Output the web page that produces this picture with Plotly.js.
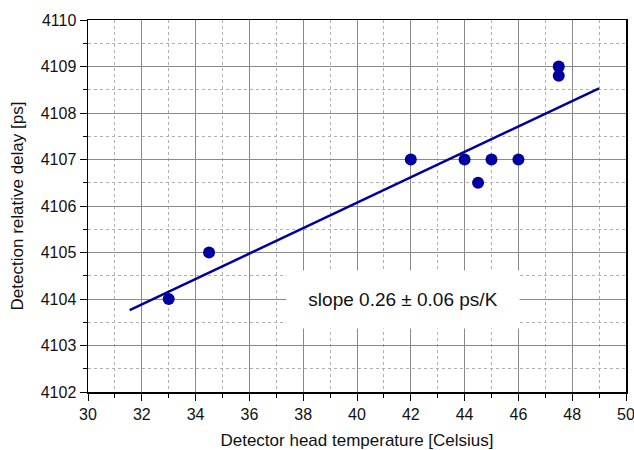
<!DOCTYPE html>
<html>
<head>
<meta charset="utf-8">
<script src="https://cdn.plot.ly/plotly-3.0.1.min.js"></script>
<style>html,body{margin:0;padding:0;background:#fff;}#chart{width:634px;height:450px;}</style>
</head>
<body>
<div id="chart"></div>
<script>
const tempC = [33, 34.5, 42, 44, 44.5, 45, 46, 47.5, 47.5];
const delayPs = [4104, 4105, 4107, 4107, 4106.5, 4107, 4107, 4109, 4108.8];
const fitX = [31.55, 49.0];
const fitY = [4103.76, 4108.53];
const slopeLabel = 'slope 0.26 ± 0.06 ps/K';
const xTitle = 'Detector head temperature [Celsius]';
const yTitle = 'Detection relative delay [ps]';

const blue = '#0000a0';
const traces = [
  {x: fitX, y: fitY, mode: 'lines', line: {color: blue, width: 2.5}, hoverinfo: 'skip'},
  {x: tempC, y: delayPs, mode: 'markers', marker: {color: blue, size: 12}}
];
const fam = 'Liberation Sans, Arial, sans-serif';
const tickFont = {family: fam, size: 16, color: '#111'};
const titleFont = {family: fam, size: 17, color: '#111'};
const layout = {
  width: 634, height: 450,
  margin: {l: 88, r: 8, t: 20, b: 58},
  paper_bgcolor: '#fff', plot_bgcolor: '#fff',
  showlegend: false,
  font: tickFont,
  xaxis: {
    range: [30, 50], dtick: 2, tick0: 30,
    showgrid: true, gridcolor: '#8a8a8a', gridwidth: 1,
    showline: true, linecolor: '#000', linewidth: 1.5, mirror: true,
    ticks: 'outside', ticklen: 7, tickcolor: '#000',
    ticklabeloverflow: 'allow',
    zeroline: false,
    tickfont: tickFont,
    minor: {dtick: 1, tick0: 30, showgrid: true, gridcolor: '#b0b0b0', griddash: 'dot', gridwidth: 1, ticks: 'outside', ticklen: 4, tickcolor: '#000'},
    title: {text: xTitle, font: titleFont, standoff: 12}
  },
  yaxis: {
    range: [4102, 4110], dtick: 1, tick0: 4102,
    showgrid: true, gridcolor: '#8a8a8a', gridwidth: 1,
    showline: true, linecolor: '#000', linewidth: 1.5, mirror: true,
    ticks: 'outside', ticklen: 7, tickcolor: '#000',
    ticklabeloverflow: 'allow',
    zeroline: false,
    tickfont: tickFont,
    minor: {dtick: 0.5, tick0: 4102, showgrid: true, gridcolor: '#b0b0b0', griddash: 'dot', gridwidth: 1, ticks: 'outside', ticklen: 4, tickcolor: '#000'},
    title: {text: yTitle, font: titleFont, standoff: 13}
  },
  annotations: [{
    x: 41.7, y: 4104.0, xref: 'x', yref: 'y',
    text: slopeLabel, showarrow: false,
    bgcolor: '#fff', width: 230, height: 55,
    font: {family: fam, size: 19, color: '#111'}
  }]
};
Plotly.newPlot('chart', traces, layout, {displayModeBar: false, staticPlot: true});
</script>
</body>
</html>
